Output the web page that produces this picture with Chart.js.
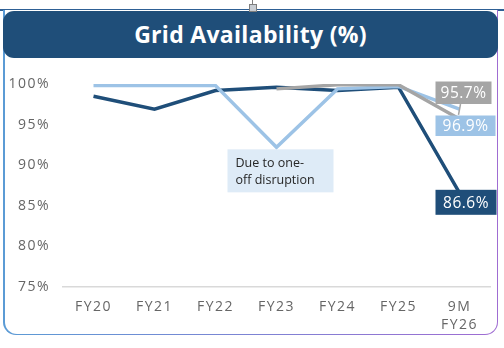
<!DOCTYPE html>
<html><head><meta charset="utf-8">
<script src="https://cdn.jsdelivr.net/npm/chart.js@4"></script>
<style>
html,body{margin:0;padding:0;background:#fff;width:504px;height:348px;overflow:hidden;font-family:"Open Sans",sans-serif}
#topline{position:absolute;left:0;top:9px;width:504px;height:1.5px;background:#2E6095}
#frame{position:absolute;left:3px;top:10px;width:495px;height:325px;border-radius:0 0 13px 13px;background:linear-gradient(to right,#5B9BD5,#9F6CD2);}
#inner{position:absolute;left:1.5px;top:0;right:1.5px;bottom:1.5px;border-radius:0 0 12px 12px;background:#fff}
#banner{position:absolute;left:3px;top:11px;width:495px;height:47px;border-radius:11px;background:#1F4E79;color:#fff;font:bold 23px "Open Sans",sans-serif;text-align:center;line-height:47px;letter-spacing:0.3px}
#handle{position:absolute;left:249px;top:4px;width:6px;height:6px;border:1px solid #7F7F7F;background:#C8CDD3}
#hline{position:absolute;left:252px;top:0;width:1px;height:4px;background:#7F7F7F}
canvas{position:absolute;left:0;top:0}
</style></head>
<body>
<div id="topline"></div>
<div id="frame"><div id="inner"></div></div>
<div id="banner">Grid Availability (%)</div>
<div id="hline"></div><div id="handle"></div>
<canvas id="c" width="504" height="348"></canvas>
<script>
const categories = [["FY20"],["FY21"],["FY22"],["FY23"],["FY24"],["FY25"],["9M","FY26"]];
const darkSeries  = [98.5, 96.9, 99.2, 99.6, 99.2, 99.6, 86.6];
const lightSeries = [99.8, 99.8, 99.8, 92.2, 99.4, 99.7, 96.9];
const graySeries  = [null, null, null, 99.4, 99.9, 99.9, 95.7];
const yTicks = [75, 80, 85, 90, 95, 100];
const noteLines = ["Due to one-", "off disruption"];

const DARK = "#1F4E79", LIGHT = "#9DC3E6", GRAY = "#A5A5A5";

const spacing = {
  id: "spacing",
  beforeDraw(chart) { chart.ctx.letterSpacing = "1.5px"; },
  afterDraw(chart) { chart.ctx.letterSpacing = "0px"; }
};

const annot = {
  id: "annot",
  afterDatasetsDraw(chart) {
    const ctx = chart.ctx, xs = chart.scales.x, ys = chart.scales.y;
    const last = categories.length - 1;
    ctx.save();
    ctx.letterSpacing = "0px";
    const nx = xs.getPixelForValue(3), ny = ys.getPixelForValue(lightSeries[3]);
    ctx.fillStyle = "#DEEBF7";
    ctx.fillRect(nx - 49, ny + 2, 106, 43);
    ctx.fillStyle = "#262626";
    ctx.font = '12.5px "Open Sans", sans-serif';
    ctx.textBaseline = "middle";
    ctx.textAlign = "left";
    ctx.fillText(noteLines[0], nx - 41, ny + 16);
    ctx.fillText(noteLines[1], nx - 41, ny + 33);
    const lx = xs.getPixelForValue(last);
    const gy = ys.getPixelForValue(graySeries[last]);
    const dy = ys.getPixelForValue(darkSeries[last]);
    ctx.strokeStyle = GRAY; ctx.lineWidth = 1.5;
    ctx.beginPath(); ctx.moveTo(lx + 1, 104); ctx.lineTo(lx - 1, gy - 4); ctx.stroke();
    const boxes = [
      {text: graySeries[last].toFixed(1) + "%", fill: GRAY, x: lx - 24, y: 81.5, w: 56, h: 22.5},
      {text: lightSeries[last].toFixed(1) + "%", fill: LIGHT, x: lx - 24, y: 115.5, w: 60, h: 20.5},
      {text: darkSeries[last].toFixed(1) + "%", fill: DARK, x: lx - 24, y: dy - 3, w: 61, h: 25}
    ];
    ctx.font = '15.5px "Open Sans", sans-serif';
    ctx.textAlign = "center";
    ctx.letterSpacing = "0.5px";
    for (const b of boxes) {
      ctx.fillStyle = b.fill;
      ctx.fillRect(b.x, b.y, b.w, b.h);
      ctx.fillStyle = "#fff";
      ctx.fillText(b.text, b.x + b.w / 2, b.y + b.h / 2 + 1);
    }
    ctx.restore();
  }
};

new Chart(document.getElementById("c"), {
  type: "line",
  data: {
    labels: categories,
    datasets: [
      {data: graySeries, borderColor: GRAY, borderWidth: 3.5, order: 0},
      {data: lightSeries, borderColor: LIGHT, borderWidth: 3.5, order: 1},
      {data: darkSeries, borderColor: DARK, borderWidth: 3.5, order: 2}
    ]
  },
  options: {
    responsive: false,
    animation: false,
    events: [],
    layout: {padding: {left: 0, right: 14, top: 84, bottom: 0}},
    elements: {point: {radius: 0}, line: {tension: 0, borderCapStyle: "butt", borderJoinStyle: "miter"}},
    plugins: {legend: {display: false}, tooltip: {enabled: false}},
    scales: {
      x: {
        offset: true,
        grid: {display: false, drawTicks: false},
        border: {display: true, color: "#D9D9D9", width: 1.5},
        ticks: {color: "#666666", padding: 11, font: {family: "Open Sans", size: 14, lineHeight: 1.3}, maxRotation: 0},
        afterFit(s) { s.height = 61; }
      },
      y: {
        min: 75, max: 100,
        afterBuildTicks(s) { s.ticks = yTicks.map(v => ({value: v})); },
        grid: {display: false, drawTicks: false},
        border: {display: false},
        ticks: {color: "#666666", padding: 13, font: {family: "Open Sans", size: 14}, callback: v => v + "%"},
        afterFit(s) { s.width = 63; }
      }
    }
  },
  plugins: [spacing, annot]
});
</script>
</body></html>
